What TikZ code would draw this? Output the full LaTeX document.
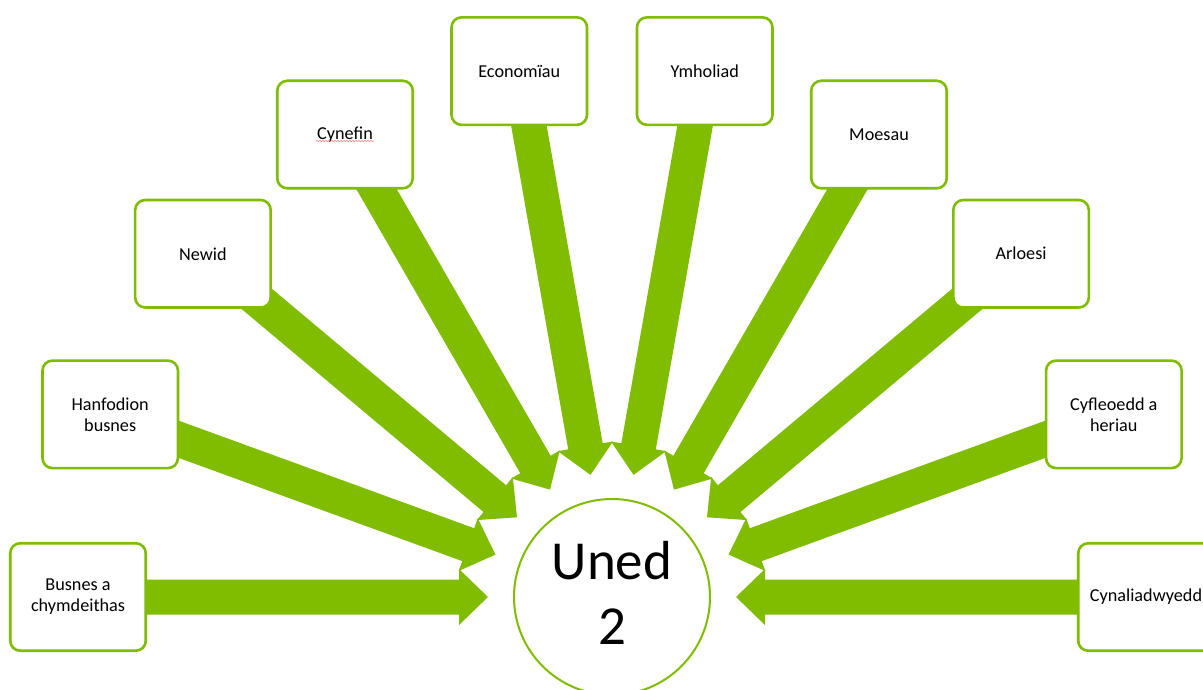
\documentclass[tikz,border=0pt]{standalone}
\usepackage{fontspec}
\setmainfont{Carlito}
\usetikzlibrary{decorations.pathmorphing}
\definecolor{grn}{HTML}{80BC00}
\begin{document}
\begin{tikzpicture}[x=1pt,y=1pt,
  box/.style={draw=grn, line width=2.6pt, rounded corners=10pt, fill=white,
    minimum width=135.5pt, minimum height=107.5pt, align=center,
    font=\fontsize{18.2}{21}\selectfont, inner sep=2pt},
  hub/.style={circle, draw=grn, line width=2pt, fill=white, minimum size=196pt, inner sep=0pt},
  blockarrow/.style={fill=grn}]
\useasboundingbox (0,0) rectangle (1203,689);
\coordinate (O) at (612,92);
% block arrows from each box towards the hub
\foreach \a in {0,20,...,180}{
  \fill[blockarrow, shift={(O)}, rotate=\a]
    (534,17.5) -- (153,17.5) -- (153,28) -- (124,0) -- (153,-28) -- (153,-17.5) -- (534,-17.5) -- cycle;
}
% boxes
\node[box] (b1)  at ([shift={(180:534)}]O) {Busnes a\\chymdeithas};
\node[box] (b2)  at ([shift={(160:534)}]O) {Hanfodion\\busnes};
\node[box] (b3)  at ([shift={(140:534)}]O) {Newid};
\node[box] (b4)  at ([shift={(120:534)}]O) {Cynefin};
\node[box] (b5)  at ([shift={(100:534)}]O) {Economïau};
\node[box] (b6)  at ([shift={(80:534)}]O)  {Ymholiad};
\node[box] (b7)  at ([shift={(60:534)}]O)  {Moesau};
\node[box] (b8)  at ([shift={(40:534)}]O)  {Arloesi};
\node[box] (b9)  at ([shift={(20:534)}]O)  {Cyfleoedd a\\heriau};
\node[box] (b10) at ([shift={(0:534)}]O)   {Cynaliadwyedd};
% spell-check squiggle under Cynefin
\draw[red!45, line width=0.6pt, decorate, decoration={snake, amplitude=0.7pt, segment length=3pt}]
  ([xshift=-29pt, yshift=-6.5pt]b4.center) -- ([xshift=29pt, yshift=-6.5pt]b4.center);
% hub
\node[hub] (c) at (O) {};
\node[font=\fontsize{55}{65}\selectfont, align=center] (ct) at ([yshift=4pt]O) {Uned\\2};
\end{tikzpicture}
\end{document}
